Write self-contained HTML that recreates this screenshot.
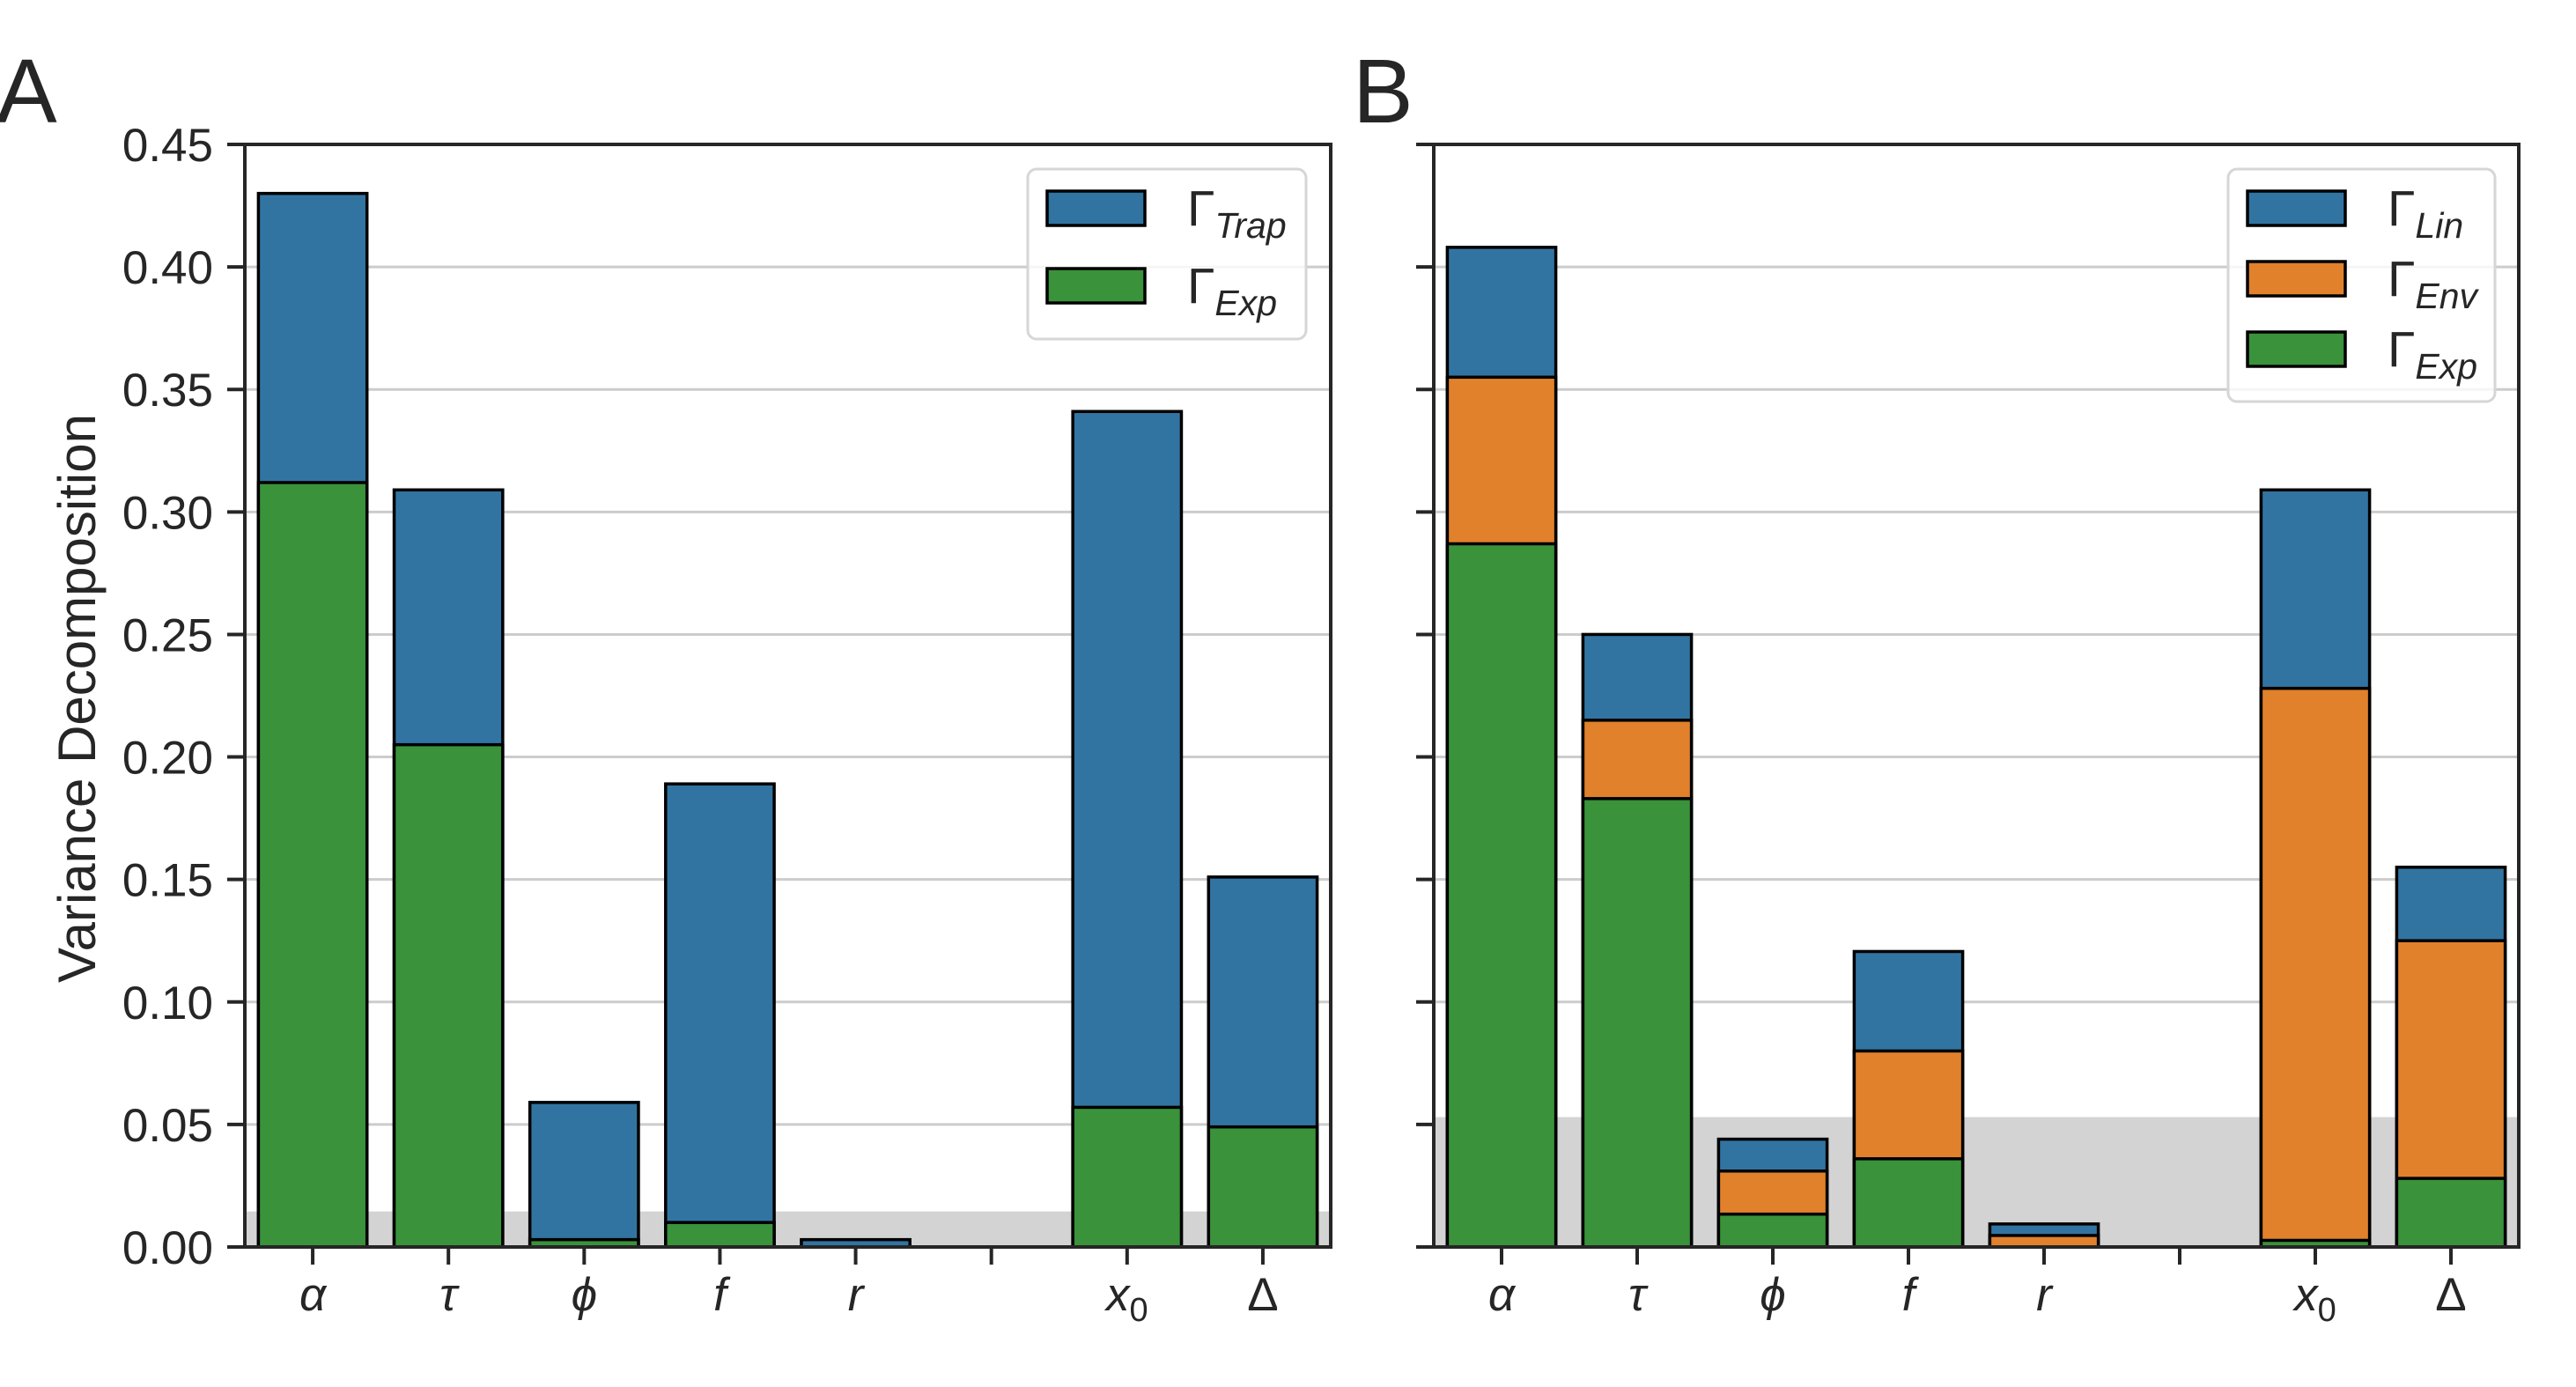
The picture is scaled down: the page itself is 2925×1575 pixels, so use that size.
<!DOCTYPE html>
<html><head><meta charset="utf-8"><style>
html,body{margin:0;padding:0;background:#fff;}
svg{display:block;font-family:"Liberation Sans","DejaVu Sans",sans-serif;}
</style></head><body>
<svg id="fig" width="2925" height="1575" viewBox="0 0 2925 1575" xmlns="http://www.w3.org/2000/svg">
<rect width="2925" height="1575" fill="#fff"/>
<text x="-4" y="139" font-size="103" fill="#262626">A</text>
<text x="1536" y="139" font-size="103" fill="#262626">B</text>
<text transform="translate(108,793) rotate(-90)" text-anchor="middle" font-size="60" fill="#262626">Variance Decomposition</text>
<g id="pa"></g>
<g id="pb"></g>
</svg>
<script>
const categories = ["α","τ","ϕ","f","r","","x0","Δ"];
const yTicks = [0,0.05,0.10,0.15,0.20,0.25,0.30,0.35,0.40,0.45];
const yTickLabels = ["0.00","0.05","0.10","0.15","0.20","0.25","0.30","0.35","0.40","0.45"];
// Panel A (top of each segment)
const aExpTop  = [0.312,0.205,0.003,0.010,0,null,0.057,0.049];
const aTrapTop = [0.430,0.309,0.059,0.189,0.003,null,0.341,0.151];
const aBand = 0.0145;
// Panel B (top of each segment)
const bExpTop = [0.287,0.183,0.0134,0.036,0,null,0.0027,0.028];
const bEnvTop = [0.355,0.215,0.031,0.080,0.0047,null,0.228,0.125];
const bLinTop = [0.408,0.250,0.044,0.1206,0.0094,null,0.309,0.155];
const bBand = 0.053;

const C = {blue:"#3274a1", green:"#3a923a", orange:"#e1812c", ink:"#262626"};
const NS = "http://www.w3.org/2000/svg";
const TOP = 164, BOT = 1416, YMAX = 0.45;
function yS(v){ return BOT - v/YMAX*(BOT-TOP); }
function mk(parent, tag, attrs){
  const e = document.createElementNS(NS, tag);
  for (const k in attrs) e.setAttribute(k, attrs[k]);
  parent.appendChild(e); return e;
}
function drawPanel(g, left, right, band, series, showLabels, legend){
  const step = (right-left)/categories.length;
  const xC = i => left + (i+0.5)*step;
  const bw = 0.8*step;
  yTicks.forEach((t,i)=>{
    if (i===0) return;
    const l = mk(g,"line",{x1:left,x2:right,y1:yS(t),y2:yS(t),stroke:"#cccccc","stroke-width":3});
    
    
  });
  const b = mk(g,"rect",{x:left,y:yS(band),width:right-left,height:BOT-yS(band),fill:"#d3d3d3"});
  
  
  categories.forEach((c,i)=>{
    for (let s=series.length-1; s>=0; s--){
      const v = series[s].data[i];
      if (v===null || v<=0) continue;
      const r = mk(g,"rect",{x:xC(i)-bw/2,y:yS(v),width:bw,height:BOT-yS(v),fill:series[s].color,stroke:"#000","stroke-width":3.5});
      
      
    }
  });
  const fr = mk(g,"rect",{x:left,y:TOP,width:right-left,height:BOT-TOP,fill:"none",stroke:C.ink,"stroke-width":4});
  
  
  yTicks.forEach((t,i)=>{
    mk(g,"line",{x1:left-20,x2:left,y1:yS(t),y2:yS(t),stroke:C.ink,"stroke-width":4});
    if (showLabels){
      const tx = mk(g,"text",{x:left-36,y:yS(t)+19,"text-anchor":"end","font-size":53,fill:C.ink});
      tx.textContent = yTickLabels[i];
      
      
    }
  });
  categories.forEach((c,i)=>{
    mk(g,"line",{x1:xC(i),x2:xC(i),y1:BOT,y2:BOT+20,stroke:C.ink,"stroke-width":4});
    if (!c) return;
    const tx = mk(g,"text",{x:xC(i),y:1488,"text-anchor":"middle","font-size":53,"font-style":"italic",fill:C.ink});
    if (c==="x0"){ tx.innerHTML = 'x<tspan font-style="normal" font-size="38" dy="12">0</tspan>'; }
    else if (c==="Δ"){ tx.setAttribute("font-style","normal"); tx.textContent = c; }
    else tx.textContent = c;
    
    
  });
  const lb = mk(g,"rect",{x:legend.x,y:legend.y,width:legend.w,height:legend.h,rx:10,fill:"#fff","fill-opacity":0.8,stroke:"#d6d6d6","stroke-width":3});
  
  
  legend.items.forEach((it,k)=>{
    const y = legend.y0 + k*legend.dy;
    const p = mk(g,"rect",{x:legend.px,y:y,width:111,height:39,fill:it.color,stroke:"#000","stroke-width":3.5});
    
    
    const t = mk(g,"text",{x:legend.tx,y:y+39,"font-size":57,fill:C.ink});
    t.innerHTML = 'Γ<tspan font-style="italic" font-size="41" dy="14">'+it.sub+'</tspan>';
    
    
  });
}
drawPanel(document.getElementById("pa"), 278, 1511, aBand,
  [{key:"exp",color:C.green,data:aExpTop},{key:"trap",color:C.blue,data:aTrapTop}], true,
  {x:1167,y:192,w:316,h:193,px:1189,tx:1348,y0:217,dy:88,
   items:[{color:C.blue,sub:"Trap"},{color:C.green,sub:"Exp"}]});
drawPanel(document.getElementById("pb"), 1628, 2860, bBand,
  [{key:"exp",color:C.green,data:bExpTop},{key:"env",color:C.orange,data:bEnvTop},{key:"lin",color:C.blue,data:bLinTop}], false,
  {x:2530,y:192,w:303,h:264,px:2552,tx:2711,y0:217,dy:80,
   items:[{color:C.blue,sub:"Lin"},{color:C.orange,sub:"Env"},{color:C.green,sub:"Exp"}]});
</script>
</body></html>
